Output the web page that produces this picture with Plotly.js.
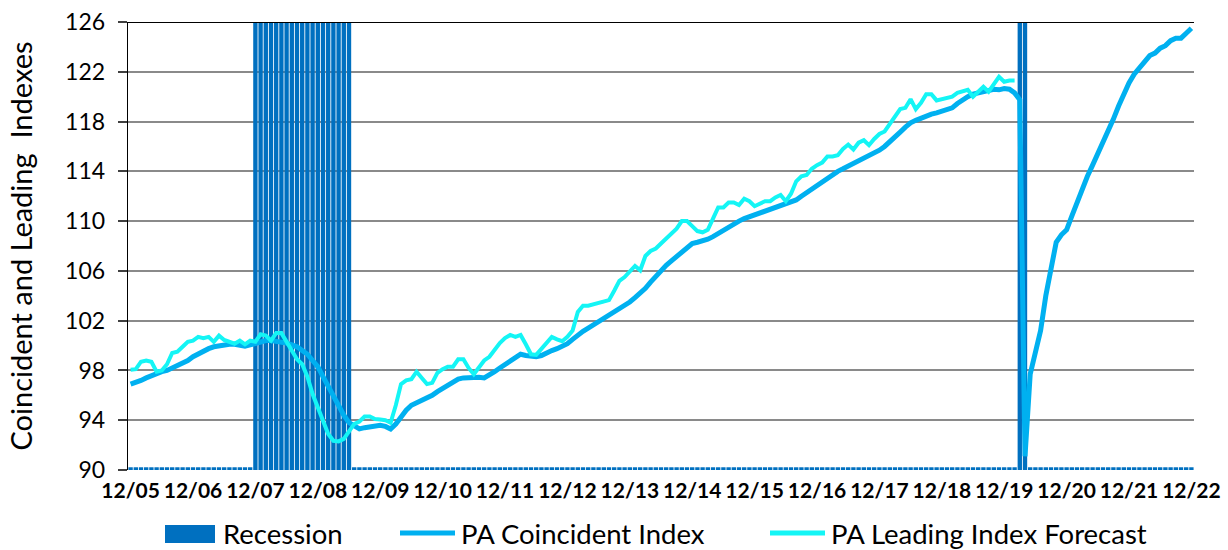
<!DOCTYPE html>
<html>
<head>
<meta charset="utf-8">
<script src="https://cdn.plot.ly/plotly-3.0.1.min.js"></script>
<style>
html,body{margin:0;padding:0;background:#fff;}
#chart{width:1228px;height:550px;}
</style>
</head>
<body>
<div id="chart"></div>
<script>
// ---- DATA ----
const firstMonth = "2005-12";
const tickLabels = ["12/05","12/06","12/07","12/08","12/09","12/10","12/11","12/12","12/13","12/14","12/15","12/16","12/17","12/18","12/19","12/20","12/21","12/22"];
const recessionStart = ["2007-12","2020-03"];
const recessionEnd   = ["2009-06","2020-04"];

const coincident = [
96.9,97.0,97.2,97.4,97.6,97.75,97.9,98.0,98.2,98.35,98.5,98.8,
99.1,99.35,99.55,99.75,99.9,100.0,100.1,100.1,100.1,100.0,99.95,100.05,
100.2,100.3,100.4,100.4,100.35,100.3,100.2,100.05,99.9,99.6,99.3,98.8,
98.3,97.5,96.7,95.9,95.1,94.4,93.8,93.5,93.3,93.4,93.5,93.55,
93.6,93.5,93.3,93.7,94.3,94.8,95.2,95.4,95.55,95.7,96.0,96.3,
96.55,96.8,97.1,97.3,97.4,97.45,97.45,97.45,97.4,97.6,97.9,98.2,
98.5,98.8,99.05,99.3,99.2,99.15,99.1,99.2,99.45,99.6,99.75,99.9,
100.15,100.5,100.85,101.15,101.4,101.65,101.95,102.2,102.45,102.7,103.0,103.25,
103.5,103.85,104.2,104.6,105.1,105.6,106.0,106.45,106.8,107.15,107.5,107.95,
108.2,108.3,108.4,108.55,108.75,109.0,109.3,109.6,109.8,110.0,110.2,110.35,
110.55,110.7,110.8,110.95,111.1,111.2,111.4,111.55,111.7,112.0,112.3,112.55,
112.8,113.1,113.4,113.75,114.0,114.2,114.4,114.6,114.85,115.05,115.25,115.45,
115.7,116.0,116.35,116.75,117.15,117.55,117.9,118.1,118.3,118.5,118.6,118.7,
118.85,118.9,119.1,119.45,119.75,120.0,120.2,120.3,120.4,120.5,120.6,120.55,
120.65,120.6,120.3,119.75,91.1,97.7,99.4,101.2,104.0,106.4,108.3,108.9,
109.3,110.4,111.5,112.7,113.6,114.5,115.4,116.2,117.1,118.2,119.25,120.3,
121.1,121.8,122.3,122.9,123.3,123.5,123.9,124.1,124.5,124.7,124.7,125.1,
125.5
];

const leading = [
98.05,98.1,98.7,98.8,98.7,97.9,98.0,98.5,99.4,99.5,99.9,100.3,
100.4,100.7,100.6,100.7,100.3,100.8,100.45,100.3,100.15,100.4,100.1,100.4,
100.3,100.9,100.8,100.4,101.0,101.0,100.3,99.5,98.9,98.5,97.5,96.1,
95.1,93.9,92.9,92.35,92.3,92.5,93.05,93.7,93.9,94.3,94.3,94.1,
94.05,94.0,93.8,95.2,96.9,97.2,97.3,97.9,97.4,96.9,97.0,97.8,
98.1,98.3,98.3,98.9,98.9,98.2,97.7,98.2,98.8,99.1,99.7,100.2,
100.6,100.85,100.7,100.85,100.1,99.3,99.25,99.7,100.2,100.7,100.5,100.35,
100.7,101.2,102.7,103.2,103.2,103.3,103.45,103.55,103.65,104.4,105.2,105.5,
106.0,106.4,106.05,107.2,107.6,107.8,108.2,108.6,109.0,109.4,110.0,110.0,
109.6,109.2,109.1,109.3,110.2,111.1,111.1,111.5,111.5,111.3,111.8,111.6,
111.2,111.4,111.6,111.6,111.9,112.1,111.6,112.2,113.2,113.6,113.7,114.2,
114.5,114.7,115.2,115.2,115.3,115.8,116.15,115.75,116.3,116.5,116.1,116.6,
117.0,117.2,117.8,118.5,119.0,119.1,119.8,119.0,119.5,120.2,120.2,119.7,
119.8,119.9,120.0,120.3,120.45,120.55,120.0,120.4,120.8,120.4,121.0,121.6,
121.2,121.3,121.3
];

// ---- BUILD ----
function monthKey(y, m){ return y + "-" + String(m).padStart(2,"0"); }
const months = [];
{
  let y = +firstMonth.slice(0,4), m = +firstMonth.slice(5,7);
  for (let k = 0; k < coincident.length; k++) {
    months.push(monthKey(y, m));
    m++; if (m > 12) { m = 1; y++; }
  }
}
function inRecession(key){
  for (let r = 0; r < recessionStart.length; r++) {
    if (key >= recessionStart[r] && key <= recessionEnd[r]) return true;
  }
  return false;
}
const AXMIN = 90, AXMAX = 126;
const recHeights = months.map(k => inRecession(k) ? (AXMAX - AXMIN) : 0.22);
const tickVals = months.filter(k => k.endsWith("-12"));

const FONT = "Lato, 'Open Sans', sans-serif";

const traces = [
  {
    type: "bar", name: "Recession", x: months, y: recHeights, base: AXMIN,
    marker: {color: "#0070C0", line: {width: 0}}, showlegend: false, hoverinfo: "skip"
  },
  {
    type: "scatter", mode: "lines", name: "PA Coincident Index",
    x: months, y: coincident,
    line: {color: "#00B0F0", width: 5}, showlegend: false
  },
  {
    type: "scatter", mode: "lines", name: "PA Leading Index Forecast",
    x: months.slice(0, leading.length), y: leading,
    line: {color: "#14F5F5", width: 4}, showlegend: false
  }
];

// plot area geometry in pixels (for legend placement)
const L = 128, R = 34, T = 22, B = 80, W = 1228, H = 550;
const pw = W - L - R, ph = H - T - B;
const px = v => (v - L) / pw;
const py = v => (H - B - v) / ph;

const legendY = 533;
const legendFont = {family: FONT, size: 27.5, color: "#000000"};
const layout = {
  width: W, height: H,
  margin: {l: L, r: R, t: T, b: B, pad: 0},
  paper_bgcolor: "#ffffff", plot_bgcolor: "#ffffff",
  bargap: 0.16,
  showlegend: false,
  font: {family: FONT, color: "#000000"},
  xaxis: {
    type: "category", range: [-0.5, months.length - 0.5],
    tickvals: tickVals, ticktext: tickLabels,
    tickangle: 0, ticks: "", showgrid: false, showline: false, zeroline: false,
    tickfont: {family: FONT, size: 21, color: "#000000", weight: "bold"},
    ticklabelstandoff: 6, fixedrange: true
  },
  yaxis: {
    range: [AXMIN, AXMAX], dtick: 4, tick0: 90,
    showgrid: true, gridcolor: "#8a8a8a", gridwidth: 2,
    showline: true, linecolor: "#000000", linewidth: 1.3,
    ticks: "outside", ticklen: 9, tickcolor: "#404040", tickwidth: 2,
    zeroline: false, ticklabelstandoff: 8,
    tickfont: {family: FONT, size: 23, color: "#000000"},
    title: {text: "Coincident and Leading  Indexes", font: {family: FONT, size: 29, color: "#000000"}, standoff: 24},
    fixedrange: true
  },
  shapes: [
    {type: "line", xref: "paper", yref: "y", x0: 0, x1: 1, y0: AXMAX, y1: AXMAX, line: {color: "#000000", width: 2}},
    {type: "rect", xref: "paper", yref: "paper", x0: px(165), x1: px(215), y0: py(543), y1: py(525),
     fillcolor: "#0070C0", line: {width: 0}},
    {type: "line", xref: "paper", yref: "paper", x0: px(400), x1: px(455), y0: py(legendY), y1: py(legendY),
     line: {color: "#00B0F0", width: 5}},
    {type: "line", xref: "paper", yref: "paper", x0: px(770), x1: px(825), y0: py(legendY), y1: py(legendY),
     line: {color: "#14F5F5", width: 5}}
  ],
  annotations: [
    {xref: "paper", yref: "paper", x: px(221), y: py(legendY), xanchor: "left", yanchor: "middle",
     text: "Recession", showarrow: false, font: legendFont},
    {xref: "paper", yref: "paper", x: px(459), y: py(legendY), xanchor: "left", yanchor: "middle",
     text: "PA Coincident Index", showarrow: false, font: legendFont},
    {xref: "paper", yref: "paper", x: px(829), y: py(legendY), xanchor: "left", yanchor: "middle",
     text: "PA Leading Index Forecast", showarrow: false, font: legendFont}
  ]
};

Plotly.newPlot("chart", traces, layout, {displayModeBar: false, staticPlot: true});
</script>
</body>
</html>
